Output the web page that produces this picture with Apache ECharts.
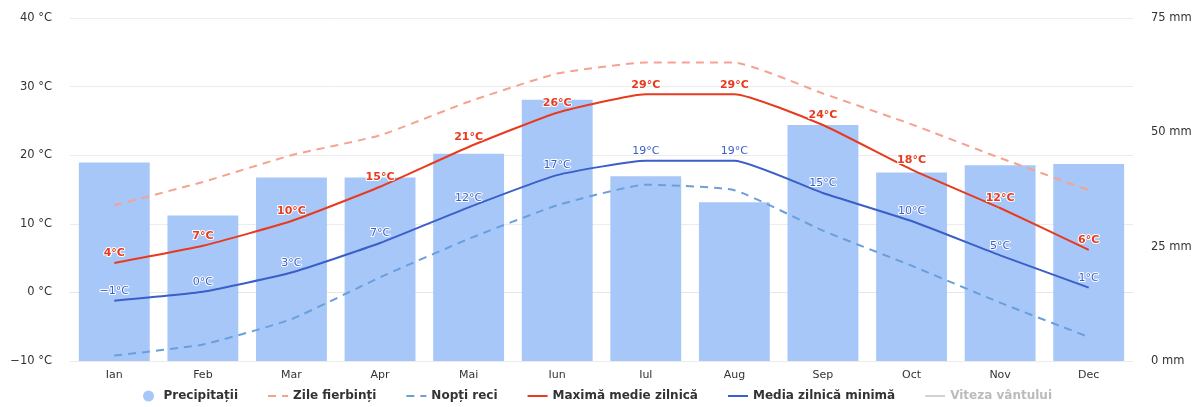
<!DOCTYPE html>
<html>
<head>
<meta charset="utf-8">
<script src="https://cdn.jsdelivr.net/npm/echarts@6/dist/echarts.min.js"></script>
<style>
html,body{margin:0;padding:0;background:#fff;}
#c{width:1195px;height:407px;}
</style>
</head>
<body>
<div id="c"></div>
<script>
const months = ['Ian','Feb','Mar','Apr','Mai','Iun','Iul','Aug','Sep','Oct','Nov','Dec'];
const precipitation = [43.4, 31.8, 40.1, 40.1, 45.3, 57.1, 40.4, 34.7, 51.6, 41.2, 42.8, 43.1];
const hotDays = [12.7, 16.1, 20.0, 22.9, 27.8, 31.9, 33.5, 33.5, 29.0, 24.5, 19.6, 14.9];
const coldNights = [-9.2, -7.6, -3.9, 2.2, 7.8, 12.7, 15.7, 14.9, 9.0, 3.9, -1.5, -6.5];
const maxTemp = [4.3, 6.8, 10.4, 15.4, 21.2, 26.2, 28.9, 28.9, 24.4, 17.9, 12.3, 6.2];
const minTemp = [-1.2, 0.1, 2.9, 7.2, 12.4, 17.1, 19.2, 19.2, 14.5, 10.4, 5.4, 0.7];
const windSpeed = [];
const tempTicks = [-10, 0, 10, 20, 30, 40];
const precipTicks = [0, 25, 50, 75];

const FONT = 'DejaVu Sans';
const noSym = {itemStyle: {opacity: 0}};
const SMOOTH = 0.15;
const chart = echarts.init(document.getElementById('c'));
chart.setOption({
  animation: false,
  textStyle: {fontFamily: FONT},
  grid: {left: 70, right: 62, top: 18, bottom: 46},
  legend: {
    bottom: 0,
    left: 'center',
    itemWidth: 20,
    itemHeight: 11,
    itemGap: 29,
    textStyle: {fontFamily: FONT, fontSize: 12, fontWeight: 'bold', color: '#333'},
    inactiveColor: '#bbb',
    selected: {'Viteza vântului': false},
    data: [
      {name: 'Precipitații', icon: 'circle'},
      Object.assign({name: 'Zile fierbinți'}, noSym),
      Object.assign({name: 'Nopți reci'}, noSym),
      Object.assign({name: 'Maximă medie zilnică'}, noSym),
      Object.assign({name: 'Media zilnică minimă'}, noSym),
      Object.assign({name: 'Viteza vântului'}, noSym)
    ]
  },
  xAxis: {
    type: 'category',
    data: months,
    axisLine: {lineStyle: {color: '#e6e6e6'}},
    axisTick: {show: false},
    axisLabel: {color: '#333', fontSize: 11, margin: 9, fontFamily: FONT}
  },
  yAxis: [
    {
      type: 'value',
      min: tempTicks[0], max: tempTicks[tempTicks.length - 1], interval: 10,
      axisLabel: {formatter: v => (v < 0 ? '\u2212' + Math.abs(v) : v) + ' °C', color: '#333', fontSize: 11.5, margin: 18, fontFamily: FONT},
      splitLine: {lineStyle: {color: '#ececec'}},
      axisLine: {show: false}, axisTick: {show: false}
    },
    {
      type: 'value',
      min: precipTicks[0], max: precipTicks[precipTicks.length - 1], interval: 25,
      axisLabel: {formatter: v => v + ' mm', color: '#333', fontSize: 11.5, margin: 18, fontFamily: FONT},
      splitLine: {show: false},
      axisLine: {show: false}, axisTick: {show: false}
    }
  ],
  series: [
    {
      name: 'Precipitații', type: 'bar', yAxisIndex: 1, data: precipitation,
      barCategoryGap: '20%',
      itemStyle: {color: '#a7c7f9'}, z: 1
    },
    {
      name: 'Zile fierbinți', type: 'line', data: hotDays, smooth: SMOOTH,
      symbol: 'none', lineStyle: {color: '#f6a291', width: 2, type: [8, 6]},
      itemStyle: {color: '#f6a291'}, z: 3
    },
    {
      name: 'Nopți reci', type: 'line', data: coldNights, smooth: SMOOTH,
      symbol: 'none', lineStyle: {color: '#6a9fdc', width: 2, type: [8, 6]},
      itemStyle: {color: '#6a9fdc'}, z: 3
    },
    {
      name: 'Maximă medie zilnică', type: 'line', data: maxTemp, smooth: SMOOTH,
      symbol: 'circle', symbolSize: 0.01, showSymbol: true,
      lineStyle: {color: '#e83a1e', width: 2},
      itemStyle: {color: '#e83a1e'},
      label: {show: true, position: 'top', distance: 4, formatter: p => Math.round(p.value) + '°C',
        color: '#e83a1e', fontSize: 11, fontWeight: 'bold', fontFamily: FONT,
        textBorderColor: '#fff', textBorderWidth: 2},
      z: 4
    },
    {
      name: 'Media zilnică minimă', type: 'line', data: minTemp, smooth: SMOOTH,
      symbol: 'circle', symbolSize: 0.01, showSymbol: true,
      lineStyle: {color: '#3a5fc8', width: 2},
      itemStyle: {color: '#3a5fc8'},
      label: {show: true, position: 'top', distance: 4,
        formatter: p => { const r = Math.round(p.value); return (r < 0 ? '\u2212' + Math.abs(r) : r) + '°C'; },
        color: '#3a5fc8', fontSize: 11, fontFamily: FONT,
        textBorderColor: '#fff', textBorderWidth: 2},
      z: 4
    },
    {
      name: 'Viteza vântului', type: 'line', data: windSpeed,
      symbol: 'none', lineStyle: {color: '#aaaaaa', width: 2}, itemStyle: {color: '#aaaaaa'}
    }
  ]
});
</script>
</body>
</html>
